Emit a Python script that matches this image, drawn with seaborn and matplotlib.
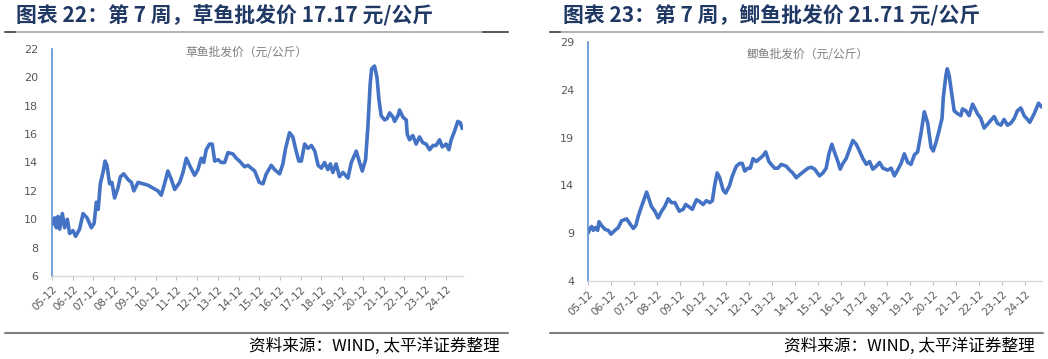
import numpy as np
import pandas as pd
import matplotlib
matplotlib.use("Agg")
import matplotlib.pyplot as plt
import seaborn as sns

# ---------------- data (years since 2005-12) ----------------
grass_t = [0.00, 0.13, 0.21, 0.29, 0.37, 0.50, 0.61, 0.74, 0.85, 1.01, 1.14, 1.33, 1.50, 1.69, 1.90,
           2.03, 2.14, 2.23, 2.33, 2.46, 2.56, 2.65, 2.78, 2.89, 3.02, 3.18, 3.30, 3.46, 3.67, 3.83,
           3.95, 4.15, 4.39, 4.63, 4.87, 5.11, 5.27, 5.43, 5.59, 5.76, 5.92, 6.16, 6.32, 6.48, 6.67,
           6.88, 7.04, 7.20, 7.32, 7.44, 7.60, 7.73, 7.85, 8.01, 8.17, 8.33, 8.49, 8.73, 8.89, 9.05,
           9.29, 9.45, 9.78, 10.00,
           10.18, 10.34, 10.58, 10.74, 10.98, 11.14, 11.27, 11.46, 11.62, 11.78, 11.91, 12.03, 12.19,
           12.35, 12.52, 12.68, 12.84, 13.00, 13.15, 13.31, 13.43, 13.55, 13.71, 13.87, 14.04, 14.28,
           14.44, 14.68, 14.84, 14.97, 15.13, 15.24, 15.35, 15.42, 15.56, 15.68, 15.77, 15.88, 16.05,
           16.17, 16.29, 16.45, 16.53, 16.69, 16.77, 16.93, 17.09, 17.14, 17.25, 17.41, 17.57, 17.73,
           17.89, 18.05, 18.22, 18.38, 18.53, 18.70, 18.83, 19.02, 19.15, 19.26, 19.42, 19.58, 19.70,
           19.79]
grass_price = [9.6, 10.1, 9.4, 10.2, 9.3, 10.4, 9.4, 10.0, 9.0, 9.2, 8.8, 9.3, 10.4, 10.1, 9.4,
               9.7, 11.2, 10.7, 12.5, 13.3, 14.1, 13.8, 12.5, 12.6, 11.5, 12.2, 13.0, 13.2, 12.8, 12.6,
               12.0, 12.6, 12.5, 12.4, 12.2, 12.0, 11.7, 12.5, 13.4, 12.8, 12.1, 12.6, 13.3, 14.3, 13.7,
               13.1, 13.5, 14.3, 14.0, 14.9, 15.3, 15.3, 14.1, 14.2, 14.0, 14.0, 14.7, 14.6, 14.3, 14.1,
               13.7, 13.8, 13.4, 12.6,
               12.5, 13.2, 13.8, 13.5, 13.2, 13.9, 15.0, 16.1, 15.8, 14.8, 14.1, 14.1, 15.3,
               15.0, 15.2, 14.8, 13.8, 13.6, 14.0, 13.5, 13.9, 13.3, 13.9, 13.0, 13.3, 12.9,
               14.0, 14.8, 14.0, 13.4, 14.2, 16.5, 19.5, 20.6, 20.8, 20.0, 18.5, 17.3, 17.0,
               17.1, 17.5, 17.2, 16.9, 17.3, 17.7, 17.2, 17.0, 16.0, 15.6, 15.9, 15.3, 15.8,
               15.4, 15.3, 14.9, 15.2, 15.2, 15.6, 15.1, 15.3, 14.9, 15.6, 16.2, 16.9, 16.8,
               16.4]

crucian_t = [0.00, 0.09, 0.16, 0.23, 0.33, 0.42, 0.48, 0.59, 0.74, 0.88, 1.00, 1.17, 1.32, 1.46, 1.68,
             1.82, 1.97, 2.08, 2.19, 2.33, 2.45, 2.55, 2.66, 2.76, 2.91, 3.05, 3.20, 3.34, 3.49, 3.63,
             3.78, 3.97, 4.14, 4.25, 4.43, 4.54, 4.72, 4.86, 5.01, 5.15, 5.30, 5.41, 5.51, 5.62, 5.73,
             5.88, 5.99, 6.16, 6.28, 6.45, 6.60, 6.71, 6.82, 6.96, 7.06, 7.18, 7.32, 7.47, 7.61, 7.73,
             7.87, 7.97, 8.12, 8.26, 8.41, 8.63, 8.77,
             8.91, 9.06, 9.20, 9.36, 9.57, 9.71, 9.86, 10.07, 10.22, 10.36, 10.48, 10.61, 10.72, 10.87,
             10.97, 11.09, 11.23, 11.38, 11.52, 11.67, 11.81, 11.96, 12.11, 12.25, 12.39, 12.54, 12.68,
             12.83, 13.04, 13.19, 13.33, 13.47, 13.62, 13.76, 13.91, 14.05, 14.20, 14.34, 14.49, 14.63,
             14.78, 14.92, 15.02, 15.14, 15.28, 15.40, 15.46, 15.57, 15.63, 15.71, 15.83, 15.93, 16.08,
             16.22, 16.29, 16.44, 16.58, 16.73, 16.84, 16.94, 17.09, 17.23, 17.38, 17.52, 17.67, 17.81,
             17.96, 18.10, 18.25, 18.39, 18.54, 18.68, 18.83, 18.97, 19.12, 19.22, 19.41, 19.60, 19.73]
crucian_price = [9.0, 9.5, 9.7, 9.3, 9.6, 9.3, 10.2, 9.8, 9.4, 9.3, 8.9, 9.3, 9.6, 10.3, 10.5,
                 10.0, 9.5, 9.8, 10.8, 11.8, 12.6, 13.3, 12.5, 11.8, 11.3, 10.6, 11.3, 11.8, 12.6, 12.2,
                 12.2, 11.3, 11.5, 12.0, 11.7, 11.5, 12.5, 12.3, 12.0, 12.4, 12.2, 12.4, 14.0, 15.3, 14.8,
                 13.5, 13.2, 14.0, 15.0, 16.0, 16.3, 16.3, 15.5, 15.8, 15.8, 16.8, 16.5, 16.8, 17.1, 17.5,
                 16.5, 16.2, 15.8, 15.8, 16.2, 16.0, 15.6,
                 15.3, 14.8, 15.1, 15.4, 15.8, 15.9, 15.7, 15.0, 15.3, 15.8, 17.3, 18.3, 17.5, 16.5,
                 15.7, 16.3, 16.8, 17.8, 18.7, 18.3, 17.6, 16.8, 16.2, 16.5, 15.7, 16.0, 16.4,
                 15.8, 15.6, 15.8, 15.0, 15.6, 16.3, 17.3, 16.4, 16.2, 17.2, 17.5, 19.5, 21.7,
                 20.5, 18.0, 17.6, 18.5, 19.8, 21.0, 23.3, 25.5, 26.2, 25.5, 23.5, 21.8, 21.5,
                 21.3, 22.0, 21.8, 21.3, 22.5, 22.0, 21.5, 21.0, 20.0, 20.4, 20.8, 21.2, 20.5,
                 20.3, 20.9, 20.3, 20.5, 21.0, 21.8, 22.1, 21.3, 20.9, 20.6, 21.5, 22.6, 22.2]

tick_labels = ["05-12", "06-12", "07-12", "08-12", "09-12", "10-12", "11-12", "12-12", "13-12", "14-12",
               "15-12", "16-12", "17-12", "18-12", "19-12", "20-12", "21-12", "22-12", "23-12", "24-12"]

titles = ["图表 22：第 7 周，草鱼批发价 17.17 元/公斤", "图表 23：第 7 周，鲫鱼批发价 21.71 元/公斤"]
inner_labels = ["草鱼批发价（元/公斤）", "鲫鱼批发价（元/公斤）"]
source_text = "资料来源：WIND, 太平洋证券整理"

grass_yticks = [6, 8, 10, 12, 14, 16, 18, 20, 22]
crucian_yticks = [4, 9, 14, 19, 24, 29]

# ---------------- style ----------------
sns.set_theme(style="white")
plt.rcParams['font.family'] = ['Noto Sans CJK SC', 'DejaVu Sans']

LINE = "#4472c4"
TITLE_C = "#1f3864"
GRAY_T = "#595959"

W, H = 1048, 359
fig = plt.figure(figsize=(W / 100, H / 100), dpi=100)

def fx(px):
    return px / W

def fy(py):
    return 1 - py / H

panels = [
    dict(t=grass_t, v=grass_price, yt=grass_yticks, ax=(52, 49, 463, 276), xmax=19.83,
         title_x=16, line=(5, 508), inner=(246, 52), src_x=500),
    dict(t=crucian_t, v=crucian_price, yt=crucian_yticks, ax=(588, 42, 1042, 281), xmax=19.75,
         title_x=563, line=(550, 1043), inner=(808, 55), src_x=1035),
]

for i, p in enumerate(panels):
    x0, y0, x1, y1 = p["ax"]
    ax = fig.add_axes([fx(x0), fy(y1), fx(x1 - x0), (y1 - y0) / H])
    df = pd.DataFrame({"t": p["t"], "price": p["v"]})
    sns.lineplot(data=df, x="t", y="price", ax=ax, color=LINE, linewidth=2.6)
    ax.set_xlim(0, p["xmax"])
    ax.set_ylim(p["yt"][0], p["yt"][-1])
    ax.set_yticks(p["yt"])
    ax.set_yticklabels([str(v) for v in p["yt"]], fontsize=8, color=GRAY_T, family="DejaVu Sans")
    ax.set_xticks(range(len(tick_labels)))
    ax.set_xticklabels(tick_labels, rotation=45, ha="right", rotation_mode="anchor",
                       fontsize=7.5, color=GRAY_T, family="DejaVu Sans")
    ax.set_xlabel("")
    ax.set_ylabel("")
    for s in ["top", "right"]:
        ax.spines[s].set_visible(False)
    ax.spines["left"].set_color("#5b8fd0")
    ax.spines["left"].set_linewidth(1.2)
    ax.spines["bottom"].set_color("#d9d9d9")
    ax.spines["bottom"].set_linewidth(1.0)
    ax.tick_params(axis="y", length=0, pad=10)
    ax.tick_params(axis="x", length=3, width=0.8, color="#bfbfbf", direction="out", pad=3, bottom=True)
    ax.grid(False)
    ax.set_facecolor("none")

    # title
    fig.text(fx(p["title_x"]), fy(16), titles[i], fontsize=15, fontweight="bold",
             color=TITLE_C, ha="left", va="center")
    # header line
    lx0, lx1 = p["line"]
    fig.add_artist(plt.Line2D([fx(lx0), fx(lx1)], [fy(32), fy(32)], color="#a6a6a6", lw=1.2))
    fig.add_artist(plt.Line2D([fx(lx0), fx(lx0 + 10)], [fy(32), fy(32)], color="#595959", lw=1.4))
    if i == 0:
        fig.add_artist(plt.Line2D([fx(lx1 - 25), fx(lx1)], [fy(32), fy(32)], color="#595959", lw=1.4))
    # bottom line
    fig.add_artist(plt.Line2D([fx(lx0), fx(lx1)], [fy(333), fy(333)], color="#7f7f7f", lw=1.5))
    # inner label
    fig.text(fx(p["inner"][0]), fy(p["inner"][1]), inner_labels[i], fontsize=8.5,
             color="#7f7f7f", ha="center", va="center")
    # source
    fig.text(fx(p["src_x"]), fy(346), source_text, fontsize=12, style="italic",
             color="#000000", ha="right", va="center")

fig.savefig("out.png", dpi=100)
